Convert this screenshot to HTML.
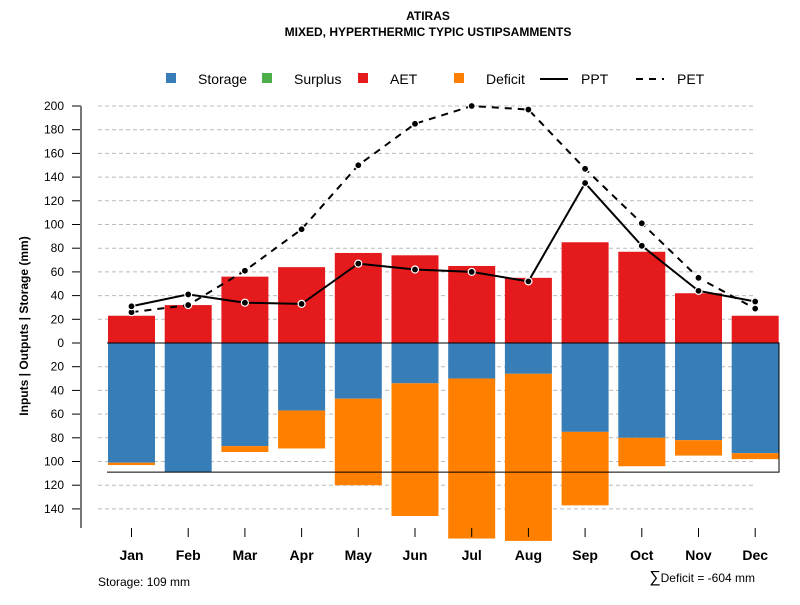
<!DOCTYPE html>
<html><head><meta charset="utf-8"><style>
body{margin:0;background:#fff;}
svg{font-family:"Liberation Sans",sans-serif;}
</style></head><body>
<svg id="chart" width="800" height="600" xmlns="http://www.w3.org/2000/svg">
<text x="428" y="20" text-anchor="middle" font-size="12" font-weight="bold">ATIRAS</text>
<text x="428" y="36" text-anchor="middle" font-size="12" font-weight="bold">MIXED, HYPERTHERMIC TYPIC USTIPSAMMENTS</text>
<g id="legend" font-size="14">
<g><rect x="166" y="73" width="10" height="10" fill="#377eb8"/><text x="198" y="84">Storage</text></g>
<g><rect x="262" y="73" width="10" height="10" fill="#4daf4a"/><text x="294" y="84">Surplus</text></g>
<g><rect x="358" y="73" width="10" height="10" fill="#e41a1c"/><text x="390" y="84">AET</text></g>
<g><rect x="454" y="73" width="10" height="10" fill="#ff7f00"/><text x="486" y="84">Deficit</text></g>
<g><line x1="540" y1="79" x2="568" y2="79" stroke="#000" stroke-width="2"/><text x="581" y="84">PPT</text></g>
<g><line x1="636" y1="79" x2="664" y2="79" stroke="#000" stroke-width="2" stroke-dasharray="7,6"/><text x="677" y="84">PET</text></g>
</g>
<g id="grid"></g><g id="bars"></g><g id="lines"></g><g id="axes"></g>
<text transform="translate(28,326) rotate(-90)" text-anchor="middle" font-size="12" font-weight="bold">Inputs | Outputs | Storage     (mm)</text>
<text x="98" y="586" font-size="12">Storage: 109 mm</text>
<text x="755" y="582" text-anchor="end" font-size="12"><tspan font-size="16">∑</tspan>Deficit = -604 mm</text>
</svg>
<script>
const months=["Jan","Feb","Mar","Apr","May","Jun","Jul","Aug","Sep","Oct","Nov","Dec"];
const aet=[23,32,56,64,76,74,65,55,85,77,42,23];
const storage=[101,109,87,57,47,34,30,26,75,80,82,93];
const deficit=[2,0,5,32,73,112,135,141,62,24,13,5];
const ppt=[31,41,34,33,67,62,60,52,135,82,44,35];
const pet=[26,32,61,96,150,185,200,197,147,101,55,29];
const yTicks=[200,180,160,140,120,100,80,60,40,20,0,20,40,60,80,100,120,140];
const yTickVals=[200,180,160,140,120,100,80,60,40,20,0,-20,-40,-60,-80,-100,-120,-140];
const storageCap=109;
const NS="http://www.w3.org/2000/svg";
const y=v=>343-v*1.185;
const x=i=>131.5+i*56.7;
const bw=47;
function mk(tag,attrs,parent){const e=document.createElementNS(NS,tag);for(const k in attrs)e.setAttribute(k,attrs[k]);document.getElementById(parent).appendChild(e);return e;}
yTickVals.forEach((v,i)=>{
  if(v!==0){const g=mk('line',{x1:98,x2:755,y1:y(v),y2:y(v),stroke:'#bbb','stroke-dasharray':'4,3'},'grid');
  
  }
  const t=mk('line',{x1:72,x2:81,y1:y(v),y2:y(v),stroke:'#000'},'axes');
  
  
  const l=mk('text',{x:64,y:y(v)+4,'text-anchor':'end','font-size':12},'axes');l.textContent=yTicks[i];
  
  
});
const ax=mk('line',{x1:81,x2:81,y1:y(200),y2:528,stroke:'#777','stroke-width':2},'axes');


months.forEach((m,i)=>{
  const a=mk('rect',{x:x(i)-bw/2,y:y(aet[i]),width:bw,height:y(0)-y(aet[i]),fill:'#e41a1c'},'bars');
  
  
  const s=mk('rect',{x:x(i)-bw/2,y:y(0),width:bw,height:y(-storage[i])-y(0),fill:'#377eb8'},'bars');
  
  
  if(deficit[i]>0){const d=mk('rect',{x:x(i)-bw/2,y:y(-storage[i]),width:bw,height:y(-storage[i]-deficit[i])-y(-storage[i]),fill:'#ff7f00'},'bars');
  
  }
  const t=mk('line',{x1:x(i),x2:x(i),y1:528,y2:537,stroke:'#000'},'axes');
  
  
  const l=mk('text',{x:x(i),y:560,'text-anchor':'middle','font-size':14,'font-weight':'bold'},'axes');l.textContent=m;
  
  
});
const box=mk('path',{d:`M107,${y(0)} H779 V${y(-storageCap)} H107`,fill:'none',stroke:'#000','stroke-width':1},'bars');


function series(vals,name,dash){
  const p=mk('polyline',{points:vals.map((v,i)=>x(i)+','+y(v)).join(' '),fill:'none',stroke:'#000','stroke-width':2,'stroke-dasharray':dash},'lines');
  
  
  vals.forEach((v,i)=>{const c=mk('circle',{cx:x(i),cy:y(v),r:3.5,fill:'#000',stroke:'#fff','stroke-width':1.2},'lines');
  
  });
}
series(pet,'pet','7,6');
series(ppt,'ppt','none');
</script>
</body></html>
